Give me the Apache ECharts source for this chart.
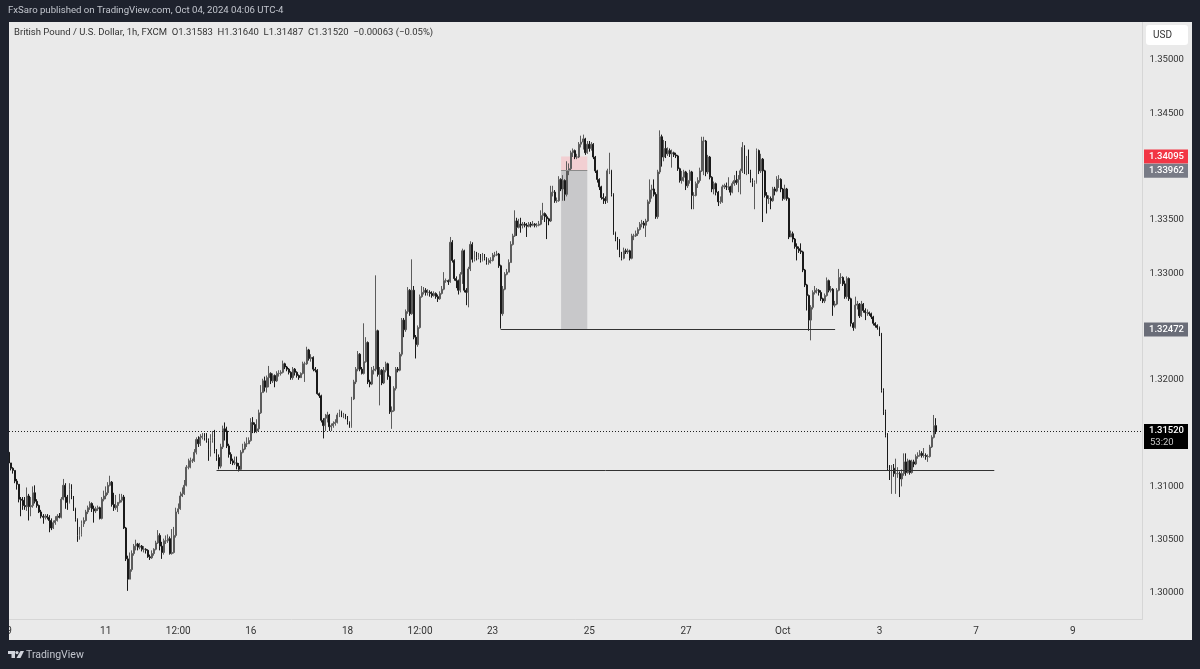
<!DOCTYPE html>
<html>
<head>
<meta charset="utf-8">
<title>GBPUSD 1h</title>
<script src="https://cdn.jsdelivr.net/npm/echarts@6/dist/echarts.min.js"></script>
<style>
html,body{margin:0;padding:0;background:#1e222d;}
#main{width:1200px;height:669px;}
</style>
</head>
<body>
<div id="main"></div>
<script>
// prices are stored as pips above this base
const basePrice = 1.3;
const firstOpen = 132;
const closes = [
122,117,115,105,102,88,87,82,81,91,81,82,94,86,82,76,72,71,72,71,68,61,66,68,72,71,88,101,90,85,97,90,79,69,54,55,65,68,76,80,84,79,77,79,80,70,88,91,94,101,104,83,80,82,85,87,90,61,32,13,22,37,44,46,43,44,41,41,40,34,33,37,41,47,54,44,38,49,49,51,37,38,54,76,79,91,93,101,118,118,124,124,132,144,140,146,147,146,143,135,143,146,133,127,119,137,154,152,138,130,124,122,122,119,116,132,135,140,140,143,160,158,152,154,169,188,
199,193,202,206,199,204,199,206,206,207,215,212,210,207,202,210,207,204,202,206,215,215,228,220,221,210,209,187,185,162,157,164,167,156,157,159,160,167,170,167,167,165,160,156,182,198,210,224,210,206,217,235,198,196,209,210,246,205,209,197,209,215,203,170,171,192,210,209,224,256,247,264,284,262,284,240,233,249,278,282,284,282,282,281,279,281,278,276,281,285,293,293,292,329,312,295,293,284,299,321,284,282,304,327,313,318,315,317,312,317,314,310,312,312,317,317,318,307,262,285,299,301,310,
327,335,349,343,346,345,346,345,344,346,345,346,345,345,346,354,356,353,351,349,376,376,368,368,388,379,387,374,396,398,413,415,409,409,421,423,426,413,421,417,421,409,396,388,381,371,370,368,396,396,374,338,332,331,317,314,321,320,321,314,335,335,337,341,346,347,345,349,367,378,379,374,353,395,428,409,417,412,415,412,413,411,410,398,387,390,395,382,387,395,373,373,384,387,396,424,424,395,409,390,379,384,376,367,367,381,382,381,381,376,384,387,385,388,396,418,396,406,395,387,385,385,415,396,407,396,373,370,370,368,379,377,388,388,379,370,379,370,334,
337,332,325,323,321,320,303,289,279,256,268,282,284,284,282,276,274,279,293,284,285,270,271,284,296,296,290,278,295,276,253,249,270,271,260,271,265,263,263,262,259,253,251,249,243,190,170,148,117,115,117,112,112,112,107,112,123,113,124,113,123,121,128,129,131,129,129,128,128,137,146,157,152
];
const highs = [
132,122,118,115,107,102,90,90,90,99,93,90,100,101,88,83,78,74,74,74,73,70,68,72,74,75,90,107,103,92,103,102,91,80,70,62,68,71,78,82,86,85,82,81,82,81,90,96,100,104,110,105,94,92,85,93,93,92,62,35,38,40,46,50,47,47,45,44,42,41,36,40,42,49,59,56,48,51,54,55,53,60,62,80,84,95,99,106,120,126,127,126,135,146,147,149,150,150,150,145,149,152,153,135,130,140,157,160,156,140,132,126,128,128,122,134,140,142,146,146,164,165,160,163,172,195,
201,203,204,213,207,206,205,208,209,209,218,216,213,211,208,212,211,208,205,207,217,217,231,229,224,222,212,210,188,186,164,168,170,168,159,161,163,169,172,171,169,168,166,161,184,200,212,227,225,212,253,240,236,200,212,213,298,247,212,210,212,217,216,204,175,194,212,212,226,258,258,266,287,285,313,288,242,251,280,288,287,286,285,284,283,283,282,280,283,288,301,295,294,334,331,313,297,294,301,323,322,286,306,330,329,321,320,319,318,319,318,315,314,315,319,320,321,319,308,288,301,304,313,
330,337,359,352,351,352,348,348,347,348,348,349,347,347,349,359,366,357,355,352,382,382,378,371,391,389,392,388,405,403,415,417,416,412,423,429,430,427,424,424,423,422,410,397,389,382,375,372,398,413,397,375,339,334,332,320,324,323,323,322,337,337,340,343,348,350,349,351,369,388,383,388,376,397,434,430,425,424,418,417,416,414,413,411,399,396,397,396,394,397,396,376,386,390,399,428,428,425,411,410,391,386,385,377,372,383,384,385,390,382,386,392,396,392,398,423,420,410,416,397,389,387,417,416,412,408,397,376,373,372,381,381,391,392,389,380,383,380,371,
340,339,333,328,325,328,321,304,290,280,270,284,288,286,285,284,277,281,296,294,288,286,274,286,304,300,297,293,297,296,277,254,278,274,272,274,272,267,266,264,263,260,254,252,250,244,192,172,150,120,120,121,126,118,114,116,131,131,126,125,125,125,130,132,134,133,136,131,130,139,148,167,164
];
const lows = [
118,115,112,103,97,85,72,78,78,77,68,72,80,84,80,75,70,65,69,69,57,59,60,64,67,70,70,87,79,78,84,88,77,67,48,50,53,62,67,74,78,76,66,75,77,69,69,86,88,92,100,81,77,78,76,84,85,60,30,2,16,20,35,40,40,41,39,38,37,33,31,32,35,40,46,40,32,36,46,47,36,36,37,52,74,78,90,92,100,116,117,122,123,130,137,138,144,143,141,124,128,141,131,124,116,117,135,143,136,127,121,120,120,116,114,115,131,134,137,140,142,150,150,150,152,168,
190,189,188,193,196,197,193,198,203,204,206,210,208,205,200,200,204,202,200,203,205,198,214,218,217,208,207,186,183,160,145,152,160,152,152,155,157,159,165,165,164,163,158,155,155,181,196,208,208,205,205,216,196,193,195,205,208,203,176,195,196,207,200,168,154,170,190,207,208,222,240,245,262,260,261,238,220,231,248,277,280,279,279,278,277,278,276,273,275,280,284,291,289,291,310,293,286,280,282,290,282,270,268,302,310,311,312,313,310,311,312,308,308,309,311,315,316,305,248,260,284,298,307,
312,326,334,335,342,338,342,343,334,343,343,344,343,343,344,345,350,348,332,345,348,372,366,366,367,377,368,368,372,392,396,409,407,407,408,418,416,411,412,414,415,407,394,385,378,369,365,365,366,393,372,336,330,322,315,312,313,318,318,312,313,331,334,335,340,343,342,334,348,365,370,372,351,351,393,400,405,408,410,409,399,409,408,396,385,384,386,378,380,384,360,360,372,380,385,395,392,391,393,388,376,374,373,363,365,366,379,378,378,373,375,382,383,376,374,394,393,392,393,385,381,360,384,393,394,348,371,356,365,360,367,373,376,380,376,368,369,368,332,
335,329,323,312,319,318,301,287,265,246,237,266,280,281,279,274,272,272,278,282,282,260,268,270,283,290,288,276,276,274,250,246,248,266,258,259,263,256,260,260,257,251,249,247,241,188,167,146,115,106,93,109,93,108,90,100,110,110,112,111,112,118,120,126,128,127,127,125,123,127,136,145,149
];

// time axis: one slot per hour, weekends skipped, room on the right for the empty future
const slotCount = 563;
const xTickIndex = [0,48,84,120,168,204,240,288,336,384,432,480,528];
const xTickText = ['9','11','12:00','16','18','12:00','23','25','27','Oct','3','7','9'];
const yTicks = [1.35,1.345,1.335,1.33,1.32,1.31,1.305,1.3];

// drawings on the chart
const lastPrice = 1.3152;
const supportPrice = 1.31149;
const midPrice = 1.32472;
const boxTop = 1.34095;
const boxMid = 1.33962;

const price = p => +(basePrice + p / 10000).toFixed(5);
const candles = closes.map((c, i) => {
    const o = i === 0 ? firstOpen : closes[i - 1];
    return [price(o), price(c), price(Math.min(lows[i], o, c)), price(Math.max(highs[i], o, c))];
});

const font = 'Roboto, sans-serif';
const chart = echarts.init(document.getElementById('main'));
chart.setOption({
    animation: false,
    backgroundColor: '#1e222d',
    grid: {left: 8, top: 22.5, width: 1134.4, height: 597},
    xAxis: {
        type: 'category',
        data: Array.from({length: slotCount}, (_, i) => String(i)),
        boundaryGap: true,
        axisLine: {lineStyle: {color: '#d6d6d6', width: 1}},
        axisTick: {show: false},
        splitLine: {show: false},
        axisLabel: {
            color: '#333',
            fontFamily: font,
            fontSize: 10,
            margin: 7,
            interval: i => xTickIndex.includes(i),
            formatter: v => xTickText[xTickIndex.indexOf(+v)]
        }
    },
    yAxis: {
        type: 'value',
        position: 'right',
        scale: true,
        min: 1.297514,
        max: 1.353518,
        axisLine: {show: true, lineStyle: {color: '#d6d6d6', width: 1}},
        axisTick: {show: false},
        splitLine: {show: false},
        axisLabel: {
            color: '#333',
            fontFamily: font,
            fontSize: 9.5,
            margin: 7,
            customValues: yTicks,
            formatter: v => v.toFixed(5)
        }
    },
    series: [{
        type: 'candlestick',
        data: candles,
        barWidth: 1.4,
        clip: true,
        itemStyle: {color: '#5c5c5c', color0: '#1a1a1a', borderColor: '#5c5c5c', borderColor0: '#1a1a1a', borderWidth: 1},
        markArea: {
            silent: true,
            data: [
                [{coord: [274, boxMid], itemStyle: {color: '#c8c8ca'}}, {coord: [287, midPrice]}],
                [{coord: [274, boxTop], itemStyle: {color: '#f2cfd2'}}, {coord: [287, boxMid]}]
            ]
        },
        markLine: {
            silent: true,
            symbol: 'none',
            label: {show: false},
            data: [
                [{coord: [244, midPrice], lineStyle: {color: '#333', width: 1, type: 'solid'}}, {coord: [410, midPrice]}],
                [{coord: [103, supportPrice], lineStyle: {color: '#333', width: 1, type: 'solid'}}, {coord: [489, supportPrice]}],
                [{coord: [274, boxMid], lineStyle: {color: '#8a8a8a', width: 1, type: 'solid'}}, {coord: [287, boxMid]}],
                [{coord: [0, lastPrice], lineStyle: {color: '#222', width: 1, type: [1, 2]}}, {coord: [slotCount - 1, lastPrice]}]
            ]
        }
    }]
});

function priceTag(value, y, h, fill, extra) {
    const items = [
        {type: 'rect', z: 100, shape: {x: 1144, y: y, width: 44, height: h}, style: {fill: fill}},
        {type: 'text', z: 101, style: {x: 1166.5, y: y + 7, text: value.toFixed(5), fill: '#fff', font: '500 9.5px ' + font, align: 'center', verticalAlign: 'middle'}}
    ];
    if (extra) {
        items.push({type: 'text', z: 101, style: {x: 1150, y: y + 18.5, text: extra, fill: '#c8c8c8', font: '9.5px ' + font, align: 'left', verticalAlign: 'middle'}});
    }
    return items;
}
const yOf = p => chart.convertToPixel({yAxisIndex: 0}, p);

chart.setOption({
    graphic: [
        // panel behind the plot and the price scale
        {type: 'rect', z: -1, shape: {x: 9, y: 22, width: 1183, height: 618}, style: {fill: '#eaeaea'}},
        {type: 'rect', z: 99, shape: {x: 0, y: 0, width: 9, height: 669}, style: {fill: '#1e222d'}},
        {type: 'text', z: 101, style: {x: 8, y: 11, text: 'FxSaro published on TradingView.com, Oct 04, 2024 04:06 UTC-4', fill: '#c3c6ce', font: '9.6px ' + font, verticalAlign: 'middle'}},
        {type: 'text', z: 101, style: {x: 14, y: 33, text: 'British Pound / U.S. Dollar, 1h, FXCM  O1.31583  H1.31640  L1.31487  C1.31520  \u22120.00063 (\u22120.05%)', fill: '#333', font: '9.5px ' + font, verticalAlign: 'middle'}},
        {type: 'rect', z: 100, shape: {x: 1146, y: 25, width: 42, height: 20, r: 3}, style: {fill: '#fff'}},
        {type: 'text', z: 101, style: {x: 1153, y: 35, text: 'USD', fill: '#333', font: '10px ' + font, verticalAlign: 'middle'}},
        ...priceTag(boxTop, yOf(boxTop) - 7, 14, '#f23645'),
        ...priceTag(boxMid, yOf(boxMid) - 7, 14, '#787b86'),
        ...priceTag(midPrice, yOf(midPrice) - 7, 14, '#6a6d78'),
        ...priceTag(lastPrice, yOf(lastPrice) - 7, 25, '#000', '53:20'),
        // logo and name in the footer
        {type: 'polygon', z: 101, shape: {points: [[8, 651], [15, 651], [15, 658], [11.5, 658], [11.5, 654], [8, 654]]}, style: {fill: '#d1d4dc'}},
        {type: 'circle', z: 101, shape: {cx: 17, cy: 652.6, r: 1.6}, style: {fill: '#d1d4dc'}},
        {type: 'polygon', z: 101, shape: {points: [[20.5, 651], [24, 651], [20.5, 658], [16.5, 658]]}, style: {fill: '#d1d4dc'}},
        {type: 'text', z: 101, style: {x: 26, y: 655, text: 'TradingView', fill: '#c3c6ce', font: '10.5px ' + font, verticalAlign: 'middle'}}
    ]
});
</script>
</body>
</html>
